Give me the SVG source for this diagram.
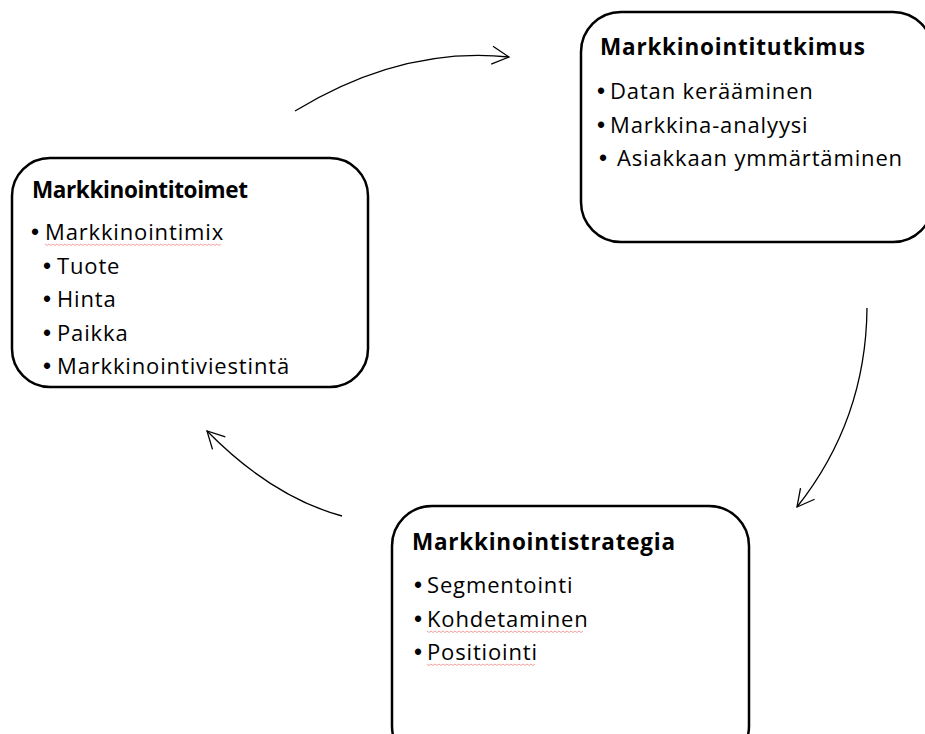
<svg xmlns="http://www.w3.org/2000/svg" width="925" height="734" viewBox="0 0 925 734">
<style>
.box{fill:#ffffff;stroke:#000000;stroke-width:2.5}
.title{font-family:"Open Sans","Liberation Sans",sans-serif;font-weight:bold;font-size:22.5px;fill:#000}
.item{font-family:"Open Sans","Liberation Sans",sans-serif;font-size:22px;letter-spacing:0.85px;fill:#000}
.b{font-family:"Liberation Sans",sans-serif;font-size:23px;letter-spacing:0}
.conn{fill:none;stroke:#000;stroke-width:1.3}
.spell{fill:none;stroke:#f2a0a0;stroke-width:1}
</style>
<defs>
<marker id="arr" markerUnits="userSpaceOnUse" viewBox="-18 -10 20 20" refX="0" refY="0" markerWidth="20" markerHeight="20" orient="auto">
<path d="M-17,-9 L0,0 L-17,9" fill="none" stroke="#000" stroke-width="1.3"/>
</marker>
</defs>
<rect width="925" height="734" fill="#ffffff"/>
<g id="connectors">
<path class="conn" d="M295,111 Q402,46 509,57" marker-end="url(#arr)"/>
<path class="conn" d="M867,308 Q866,420 797,507" marker-end="url(#arr)"/>
<path class="conn" d="M342,516 Q272,497 207,431" marker-end="url(#arr)"/>
</g>
<g id="markkinointitoimet">
<rect class="box" x="12" y="158" width="356" height="229" rx="38" ry="38"/>
<text class="title" x="32" y="198" textLength="216" lengthAdjust="spacing">Markkinointitoimet</text>
<text class="item" y="240"><tspan class="b" x="31">•</tspan><tspan x="45">Markkinointimix</tspan></text>
<path class="spell" d="M45,244 l2,1.5 l2,-1.5 l2,1.5 l2,-1.5 l2,1.5 l2,-1.5 l2,1.5 l2,-1.5 l2,1.5 l2,-1.5 l2,1.5 l2,-1.5 l2,1.5 l2,-1.5 l2,1.5 l2,-1.5 l2,1.5 l2,-1.5 l2,1.5 l2,-1.5 l2,1.5 l2,-1.5 l2,1.5 l2,-1.5 l2,1.5 l2,-1.5 l2,1.5 l2,-1.5 l2,1.5 l2,-1.5 l2,1.5 l2,-1.5 l2,1.5 l2,-1.5 l2,1.5 l2,-1.5 l2,1.5 l2,-1.5 l2,1.5 l2,-1.5 l2,1.5 l2,-1.5 l2,1.5 l2,-1.5 l2,1.5 l2,-1.5 l2,1.5 l2,-1.5 l2,1.5 l2,-1.5 l2,1.5 l2,-1.5 l2,1.5 l2,-1.5 l2,1.5 l2,-1.5 l2,1.5 l2,-1.5 l2,1.5 l2,-1.5 l2,1.5 l2,-1.5 l2,1.5 l2,-1.5 l2,1.5 l2,-1.5 l2,1.5 l2,-1.5 l2,1.5 l2,-1.5 l2,1.5 l2,-1.5 l2,1.5 l2,-1.5 l2,1.5 l2,-1.5 l2,1.5 l2,-1.5 l2,1.5 l2,-1.5 l2,1.5 l2,-1.5 l2,1.5 l2,-1.5 l2,1.5 l2,-1.5 l2,1.5 l2,-1.5"/>
<text class="item" y="273.5"><tspan class="b" x="43">•</tspan><tspan x="57">Tuote</tspan></text>
<text class="item" y="307"><tspan class="b" x="43">•</tspan><tspan x="57">Hinta</tspan></text>
<text class="item" y="340.5"><tspan class="b" x="43">•</tspan><tspan x="57">Paikka</tspan></text>
<text class="item" y="374"><tspan class="b" x="43">•</tspan><tspan x="57">Markkinointiviestintä</tspan></text>
</g>
<g id="markkinointitutkimus">
<rect class="box" x="581" y="12" width="352" height="230" rx="40" ry="40"/>
<text class="title" x="600" y="55" textLength="265" lengthAdjust="spacing">Markkinointitutkimus</text>
<text class="item" y="99"><tspan class="b" x="597">•</tspan><tspan x="610">Datan kerääminen</tspan></text>
<text class="item" y="132.5"><tspan class="b" x="597">•</tspan><tspan x="610">Markkina-analyysi</tspan></text>
<text class="item" y="166"><tspan class="b" x="599">•</tspan><tspan x="617">Asiakkaan ymmärtäminen</tspan></text>
</g>
<g id="markkinointistrategia">
<rect class="box" x="392" y="506" width="357" height="260" rx="40" ry="40"/>
<text class="title" x="412" y="550" textLength="263" lengthAdjust="spacing">Markkinointistrategia</text>
<text class="item" y="593"><tspan class="b" x="414">•</tspan><tspan x="427">Segmentointi</tspan></text>
<text class="item" y="627"><tspan class="b" x="414">•</tspan><tspan x="427">Kohdetaminen</tspan></text>
<path class="spell" d="M427,631 l2,1.5 l2,-1.5 l2,1.5 l2,-1.5 l2,1.5 l2,-1.5 l2,1.5 l2,-1.5 l2,1.5 l2,-1.5 l2,1.5 l2,-1.5 l2,1.5 l2,-1.5 l2,1.5 l2,-1.5 l2,1.5 l2,-1.5 l2,1.5 l2,-1.5 l2,1.5 l2,-1.5 l2,1.5 l2,-1.5 l2,1.5 l2,-1.5 l2,1.5 l2,-1.5 l2,1.5 l2,-1.5 l2,1.5 l2,-1.5 l2,1.5 l2,-1.5 l2,1.5 l2,-1.5 l2,1.5 l2,-1.5 l2,1.5 l2,-1.5 l2,1.5 l2,-1.5 l2,1.5 l2,-1.5 l2,1.5 l2,-1.5 l2,1.5 l2,-1.5 l2,1.5 l2,-1.5 l2,1.5 l2,-1.5 l2,1.5 l2,-1.5 l2,1.5 l2,-1.5 l2,1.5 l2,-1.5 l2,1.5 l2,-1.5 l2,1.5 l2,-1.5 l2,1.5 l2,-1.5 l2,1.5 l2,-1.5 l2,1.5 l2,-1.5 l2,1.5 l2,-1.5 l2,1.5 l2,-1.5 l2,1.5 l2,-1.5 l2,1.5 l2,-1.5 l2,1.5 l2,-1.5"/>
<text class="item" y="660"><tspan class="b" x="414">•</tspan><tspan x="427">Positiointi</tspan></text>
<path class="spell" d="M427,664 l2,1.5 l2,-1.5 l2,1.5 l2,-1.5 l2,1.5 l2,-1.5 l2,1.5 l2,-1.5 l2,1.5 l2,-1.5 l2,1.5 l2,-1.5 l2,1.5 l2,-1.5 l2,1.5 l2,-1.5 l2,1.5 l2,-1.5 l2,1.5 l2,-1.5 l2,1.5 l2,-1.5 l2,1.5 l2,-1.5 l2,1.5 l2,-1.5 l2,1.5 l2,-1.5 l2,1.5 l2,-1.5 l2,1.5 l2,-1.5 l2,1.5 l2,-1.5 l2,1.5 l2,-1.5 l2,1.5 l2,-1.5 l2,1.5 l2,-1.5 l2,1.5 l2,-1.5 l2,1.5 l2,-1.5 l2,1.5 l2,-1.5 l2,1.5 l2,-1.5 l2,1.5 l2,-1.5 l2,1.5 l2,-1.5 l2,1.5 l2,-1.5"/>
</g>
</svg>
